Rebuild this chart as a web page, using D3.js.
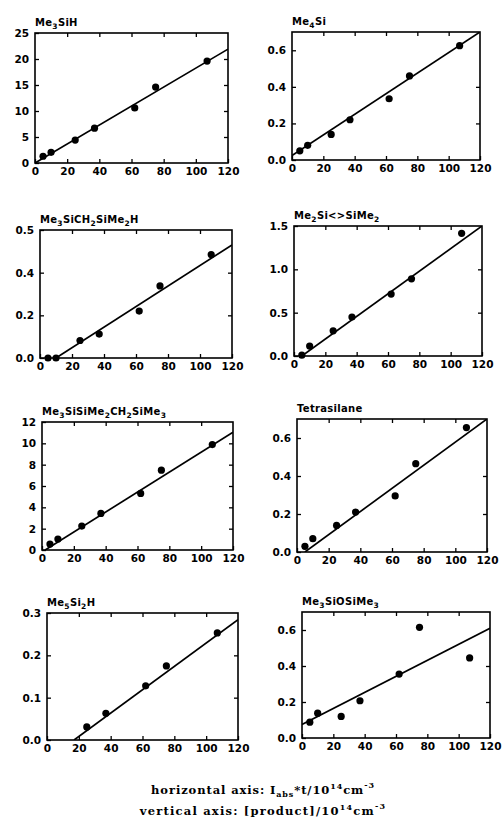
<!DOCTYPE html>
<html>
<head>
<meta charset="utf-8">
<script src="https://cdn.jsdelivr.net/npm/d3@7"></script>
<style>
  body { margin: 0; background: #fff; }
  text { fill: #000; }
</style>
</head>
<body>
<div id="chart"></div>
<script>
// dose values (horizontal axis) shared by every panel
var doses = [5, 10, 25, 37, 62, 75, 107];
var xTicks = [0, 20, 40, 60, 80, 100, 120];

// panel titles, "_n" means subscript n
var titles = ["Me_3SiH", "Me_4Si", "Me_3SiCH_2SiMe_2H", "Me_2Si<>SiMe_2",
              "Me_3SiSiMe_2CH_2SiMe_3", "Tetrasilane", "Me_5Si_2H", "Me_3SiOSiMe_3"];

// product concentrations, null = no point
var yMe3SiH    = [1.3, 2.05, 4.4, 6.7, 10.6, 14.6, 19.6];
var yMe4Si     = [0.05, 0.08, 0.14, 0.22, 0.335, 0.46, 0.625];
var yDisilMeth = [0.0, 0.0, 0.082, 0.112, 0.22, 0.338, 0.485];
var yCyclo     = [0.01, 0.115, 0.29, 0.45, 0.715, 0.89, 1.415];
var yTrisil    = [0.56, 1.03, 2.24, 3.43, 5.3, 7.48, 9.88];
var yTetra     = [0.03, 0.07, 0.14, 0.21, 0.295, 0.465, 0.655];
var yMe5Si2H   = [null, null, 0.031, 0.063, 0.128, 0.175, 0.253];
var yOxide     = [0.088, 0.138, 0.12, 0.207, 0.355, 0.615, 0.445];
var series = [yMe3SiH, yMe4Si, yDisilMeth, yCyclo, yTrisil, yTetra, yMe5Si2H, yOxide];

// fitted lines: [x0, y0, x1, y1]
var fits = [[0, 0, 120, 21.9], [0, 0.025, 120, 0.7], [10, 0, 120, 0.53], [5, 0, 120, 1.5],
            [2, 0, 120, 11.05], [5, 0, 120, 0.7], [17, 0, 120, 0.284], [0, 0.075, 120, 0.61]];

// vertical scale maxima and tick values / labels
var yMax = [25, 0.7, 0.6, 1.5, 12, 0.7, 0.3, 0.7];
var yTickVals = [[0, 5, 10, 15, 20, 25], [0, 0.2, 0.4, 0.6], [0, 0.2, 0.4, 0.6], [0, 0.5, 1, 1.5],
                 [0, 2, 4, 6, 8, 10, 12], [0, 0.2, 0.4, 0.6], [0, 0.1, 0.2, 0.3], [0, 0.2, 0.4, 0.6]];
var yTickLabels = [["0", "5", "10", "15", "20", "25"], ["0.0", "0.2", "0.4", "0.6"],
                   ["0.0", "0.2", "0.4", "0.5"], ["0.0", "0.5", "1.0", "1.5"],
                   ["0", "2", "4", "6", "8", "10", "12"], ["0.0", "0.2", "0.4", "0.6"],
                   ["0.0", "0.1", "0.2", "0.3"], ["0.0", "0.2", "0.4", "0.6"]];

//panel boxes on the page [left, top, right, bottom] (the scan drifts a little)
var boxes = [[35, 33, 228, 163], [292, 32, 480, 160],
             [40, 230, 232, 358], [294, 226, 482, 356],
             [42, 422, 233, 550], [297, 419, 487, 552],
             [47, 613, 238, 740], [302, 612, 490, 738]];

var width = 504, height = 826;
var font = "'DejaVu Sans', Verdana, sans-serif";

var svg = d3.select("#chart").append("svg")
    .attr("width", width)
    .attr("height", height);

//write a chemical formula with subscripts
function formula(sel, str) {
  var parts = str.split(/_(\d)/);
  parts.forEach(function (p, i) {
    if (p === "") return;
    var t = sel.append("tspan").text(p);
    if (i % 2 === 1) t.attr("font-size", 7.5).attr("dy", 3);
    else if (i > 0) t.attr("dy", -3);
  });
}

titles.forEach(function (title, k) {
  var b = boxes[k];
  var w = b[2] - b[0], h = b[3] - b[1];
  var g = svg.append("g").attr("transform", "translate(" + b[0] + "," + b[1] + ")");

  var x = d3.scaleLinear().domain([0, 120]).range([0, w]);
  var y = d3.scaleLinear().domain([0, yMax[k]]).range([h, 0]);

  g.append("clipPath").attr("id", "clip" + k)
    .append("rect").attr("width", w).attr("height", h);

  //bottom axis with labels, ticks point inward
  g.append("g")
    .attr("transform", "translate(0," + h + ")")
    .call(d3.axisBottom(x).tickValues(xTicks).tickFormat(d3.format("d"))
          .tickSize(-4).tickSizeOuter(0).tickPadding(5));
  //left axis with labels
  g.append("g")
    .call(d3.axisLeft(y).tickValues(yTickVals[k])
          .tickFormat(function (d, i) { return yTickLabels[k][i]; })
          .tickSize(-4).tickSizeOuter(0).tickPadding(6));
  //top and right: ticks only
  g.append("g")
    .call(d3.axisTop(x).tickValues(xTicks.slice(1, -1)).tickFormat("")
          .tickSize(-4).tickSizeOuter(0));
  g.append("g")
    .attr("transform", "translate(" + w + ",0)")
    .call(d3.axisRight(y).tickValues(yTickVals[k].slice(1, -1)).tickFormat("")
          .tickSize(-4).tickSizeOuter(0));

  g.selectAll(".domain").remove();
  g.selectAll(".tick line").attr("stroke", "#000").attr("stroke-width", 1.3);
  g.selectAll(".tick text")
    .attr("font-family", font).attr("font-weight", "bold").attr("font-size", 10.5)
    .attr("fill", "#000");

  //frame
  g.append("rect")
    .attr("width", w).attr("height", h)
    .attr("fill", "none").attr("stroke", "#000").attr("stroke-width", 1.6);

  //fit line
  var f = fits[k];
  g.append("line")
    .attr("clip-path", "url(#clip" + k + ")")
    .attr("x1", x(f[0])).attr("y1", y(f[1]))
    .attr("x2", x(f[2])).attr("y2", y(f[3]))
    .attr("stroke", "#000").attr("stroke-width", 1.7);

  //measured points
  var pts = doses.map(function (d, i) { return [d, series[k][i]]; })
    .filter(function (d) { return d[1] !== null; });
  g.selectAll("circle")
    .data(pts)
    .enter().append("circle")
    .attr("cx", function (d) { return x(d[0]); })
    .attr("cy", function (d) { return y(d[1]); })
    .attr("r", 3.6)
    .attr("fill", "#000");

  //title
  var t = g.append("text")
    .attr("x", 0).attr("y", -7)
    .attr("font-family", font).attr("font-weight", "bold").attr("font-size", 10)
    .attr("letter-spacing", 0.3);
  formula(t, title);
});

//footer notes
var serif = "'DejaVu Serif', 'Liberation Serif', serif";
var f1 = svg.append("text")
  .attr("x", 263).attr("y", 794)
  .attr("text-anchor", "middle")
  .attr("font-family", serif).attr("font-weight", "bold").attr("font-size", 11.5)
  .attr("letter-spacing", 0.9);
f1.append("tspan").text("horizontal axis: I");
f1.append("tspan").attr("font-size", 8).attr("dy", 3).text("abs");
f1.append("tspan").attr("dy", -3).text("*t/10");
f1.append("tspan").attr("font-size", 8).attr("dy", -5).text("14");
f1.append("tspan").attr("dy", 5).text("cm");
f1.append("tspan").attr("font-size", 8).attr("dy", -6).text("-3");

var f2 = svg.append("text")
  .attr("x", 263).attr("y", 815)
  .attr("text-anchor", "middle")
  .attr("font-family", serif).attr("font-weight", "bold").attr("font-size", 11.5)
  .attr("letter-spacing", 1.2);
f2.append("tspan").text("vertical axis: [product]/10");
f2.append("tspan").attr("font-size", 8).attr("dy", -5).text("14");
f2.append("tspan").attr("dy", 5).text("cm");
f2.append("tspan").attr("font-size", 8).attr("dy", -6).text("-3");
</script>
</body>
</html>
